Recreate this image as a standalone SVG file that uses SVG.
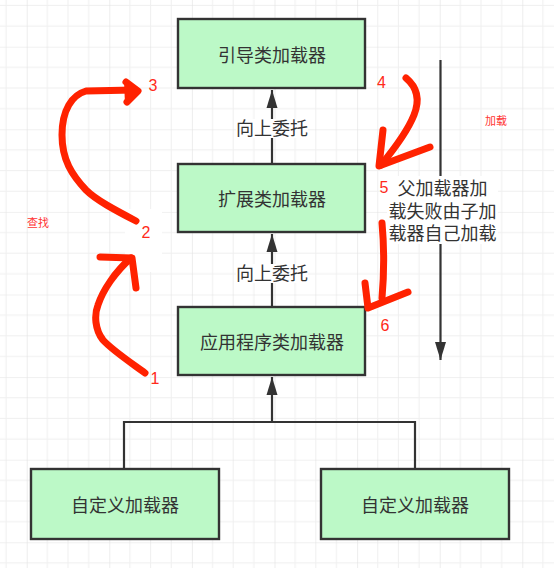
<svg xmlns="http://www.w3.org/2000/svg" width="554" height="568" viewBox="0 0 554 568">
<style>
.box{fill:#bcf9c7;stroke:#333;stroke-width:2.4}
.t{font-family:"Noto Sans CJK SC","Noto Sans",sans-serif;font-size:18px;fill:#333;text-anchor:middle}
.edge{fill:none;stroke:#333;stroke-width:2.2}
.lbg{fill:#fff}
.red{fill:none;stroke:#ff2200;stroke-width:7;stroke-linecap:round;stroke-linejoin:round}
.num{font-family:"Liberation Sans",Arial,sans-serif;font-size:16px;fill:#ff2a1a}
.small{font-family:"Noto Sans CJK SC","Noto Sans",sans-serif;font-size:11px;fill:#ff3333}
</style>
<defs>
<pattern id="grid" patternUnits="userSpaceOnUse" x="26.7" y="46.7" width="82.6" height="82.6">
<path d="M20.65 0V82.6M41.3 0V82.6M61.95 0V82.6M0 20.65H82.6M0 41.3H82.6M0 61.95H82.6" stroke="#efefef" stroke-width="1"/>
<path d="M0 0V82.6M0 0H82.6" stroke="#e2e2e2" stroke-width="1.2"/>
</pattern>
<marker id="ah" markerUnits="userSpaceOnUse" markerWidth="18" markerHeight="12" refX="18" refY="6" orient="auto">
<path d="M0,0.5 L18,6 L0,11.5 Z" fill="#333"/>
</marker>
</defs>
<rect width="554" height="568" fill="#fff"/>
<rect width="554" height="568" fill="url(#grid)"/>

<g id="connectors">
<path class="edge" d="M272,164 V90" marker-end="url(#ah)"/>
<path class="edge" d="M272,307 V234" marker-end="url(#ah)"/>
<path class="edge" d="M124,469 V422 H415 V469"/>
<path class="edge" d="M272,422 V377" marker-end="url(#ah)"/>
<path class="edge" d="M440.5,60 V360" marker-end="url(#ah)"/>
<rect class="lbg" x="236" y="119" width="72" height="19"/>
<text class="t" x="272" y="135">向上委托</text>
<rect class="lbg" x="236" y="264" width="72" height="19"/>
<text class="t" x="272" y="280">向上委托</text>
</g>

<g id="bootstrap">
<rect class="box" x="178" y="19" width="187" height="69"/>
<text class="t" x="272" y="62">引导类加载器</text>
</g>
<g id="extension">
<rect class="box" x="178" y="164" width="187" height="68"/>
<text class="t" x="272" y="206">扩展类加载器</text>
</g>
<g id="application">
<rect class="box" x="178" y="307" width="187" height="68"/>
<text class="t" x="272" y="349">应用程序类加载器</text>
</g>
<g id="custom1">
<rect class="box" x="31" y="469" width="188" height="70"/>
<text class="t" x="125" y="512">自定义加载器</text>
</g>
<g id="custom2">
<rect class="box" x="321" y="469" width="188" height="70"/>
<text class="t" x="415" y="512">自定义加载器</text>
</g>

<g id="load-note">
<rect class="lbg" x="387" y="176" width="111" height="68"/>
<text class="t" x="442.5" y="195">父加载器加</text>
<text class="t" x="442.5" y="218">载失败由子加</text>
<text class="t" x="442.5" y="240">载器自己加载</text>
</g>

<g id="annotations">
<rect class="lbg" x="125" y="209" width="37" height="63"/>
<path class="red" d="M145,373 C130,362 112,350 103,340 C95,330 94,315 98,305 C103,290 115,272 131,258"/>
<path class="red" d="M100,257 L132,258 L136,288"/>
<path class="red" d="M136,221 C115,210 96,200 86,190 C72,175 62,160 62,135 C62,110 72,95 86,91 L134,90"/>
<path class="red" d="M126,82 L138,91 L127,102" stroke-width="8"/>
<path d="M124,80 L141,91 L125,105 Z" fill="#ff2200"/>
<path class="red" d="M406,78 C418,88 420,100 414,115 C408,130 395,148 381,165"/>
<path class="red" d="M383,130 L379,166 L430,147"/>
<path class="red" d="M382,223 C384,245 384,275 382,298"/>
<path class="red" d="M365,283 L368,308 L408,292"/>
<text class="num" x="148.5" y="90.7">3</text>
<text class="num" x="141.5" y="238">2</text>
<text class="num" x="150.5" y="384">1</text>
<text class="num" x="377" y="88">4</text>
<text class="num" x="379.5" y="192.7">5</text>
<text class="num" x="380.5" y="330.7">6</text>
<text class="small" x="485" y="125">加载</text>
<text class="small" x="27" y="227">查找</text>
</g>
</svg>
